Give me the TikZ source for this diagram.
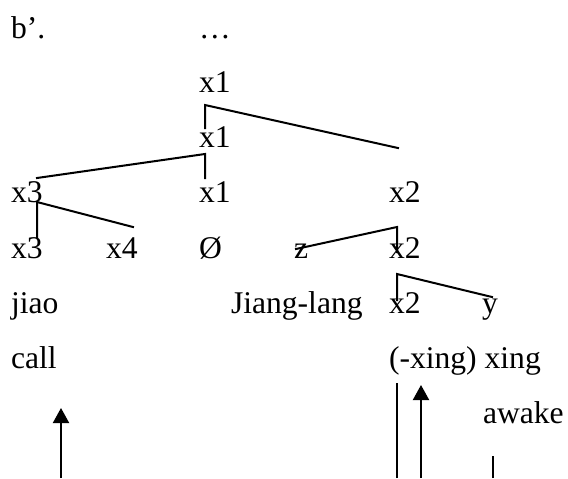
\documentclass[tikz,border=0pt]{standalone}
\usepackage{fontspec}
\setmainfont{Liberation Serif}
\usetikzlibrary{arrows.meta}
\begin{document}
\begin{tikzpicture}[x=0.5pt,y=-0.5pt,
  lbl/.style={anchor=base west,inner sep=0pt,outer sep=0pt,font=\fontsize{15.8}{18}\selectfont},
  branch/.style={line width=1pt,line cap=rect},
  up/.style={line width=1pt,-{Triangle[width=8pt,length=7.5pt]}}]
\useasboundingbox (0,0) rectangle (568,478);
% texts
\node[lbl] (b) at (11,38) {b’.};
\node[lbl] (dots) at (199,38) {…};
\node[lbl] (xa) at (199,92) {x1};
\node[lbl] (xb) at (199,147) {x1};
\node[lbl] (x3a) at (11,202) {x3};
\node[lbl] (x1c) at (199,202) {x1};
\node[lbl] (x2a) at (389,202) {x2};
\node[lbl] (x3b) at (11,258) {x3};
\node[lbl] (x4) at (106,258) {x4};
\node[lbl] (null) at (199,258) {Ø};
\node[lbl] (z) at (294,258) {z};
\node[lbl] (x2b) at (389,258) {x2};
\node[lbl] (jiao) at (11,313) {jiao};
\node[lbl] (jl) at (231,313) {Jiang-lang};
\node[lbl] (x2c) at (389,313) {x2};
\node[lbl] (y) at (482,313) {y};
\node[lbl] (call) at (11,368) {call};
\node[lbl] (xing) at (389,368) {(-xing) xing};
\node[lbl] (awake) at (483,423) {awake};
% branch points
\coordinate (t1) at (205,105); \coordinate (t1d) at (205,128); \coordinate (t1r) at (398,148);
\coordinate (t2) at (205,154); \coordinate (t2d) at (205,178); \coordinate (t2l) at (37,178);
\coordinate (t3) at (37,202);  \coordinate (t3d) at (37,237);  \coordinate (t3r) at (133,227);
\coordinate (t4) at (397,227); \coordinate (t4d) at (397,252); \coordinate (t4l) at (296,249);
\coordinate (t5) at (397,274); \coordinate (t5d) at (397,300); \coordinate (t5r) at (492,297);
\draw[branch] (t1d) -- (t1) -- (t1r);
\draw[branch] (t2d) -- (t2) -- (t2l);
\draw[branch] (t3d) -- (t3) -- (t3r);
\draw[branch] (t4d) -- (t4) -- (t4l);
\draw[branch] (t5d) -- (t5) -- (t5r);
% movement lines
\coordinate (a1s) at (61,478); \coordinate (a1e) at (61,408);
\coordinate (l1s) at (397,478); \coordinate (l1e) at (397,383);
\coordinate (a2s) at (421,478); \coordinate (a2e) at (421,385);
\coordinate (l2s) at (493,478); \coordinate (l2e) at (493,456);
\draw[up] (a1s) -- (a1e);
\draw[line width=1pt] (l1s) -- (l1e);
\draw[up] (a2s) -- (a2e);
\draw[line width=1pt] (l2s) -- (l2e);
\end{tikzpicture}
\end{document}
